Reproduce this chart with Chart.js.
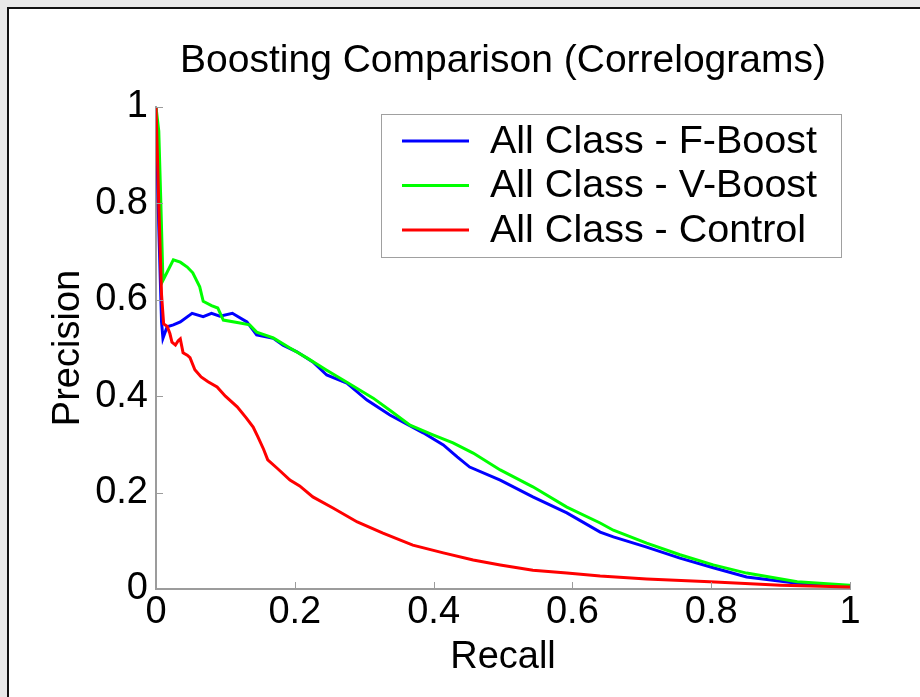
<!DOCTYPE html>
<html>
<head>
<meta charset="utf-8">
<title>Boosting Comparison (Correlograms)</title>
<script src="https://cdn.jsdelivr.net/npm/chart.js@4.4.0/dist/chart.umd.min.js"></script>
<style>
  html, body { margin: 0; padding: 0; background: #e8e8e8; overflow: hidden; }
  #frame {
    position: absolute; left: 7px; top: 7px; width: 1000px; height: 800px;
    background: #fff; border-top: 2px solid #111; border-left: 2px solid #111;
  }
  #wrap { position: absolute; left: 0; top: 0; width: 920px; height: 697px; }
</style>
</head>
<body>
<div id="frame"></div>
<div id="wrap"><canvas id="prChart" width="920" height="697"></canvas></div>
<script>
// precision / recall curves
const fboostRecall = [0, 0.004, 0.008, 0.010, 0.016, 0.025, 0.035, 0.052, 0.068, 0.080, 0.092, 0.110, 0.131, 0.145, 0.169, 0.183, 0.203, 0.226, 0.246, 0.275, 0.304, 0.337, 0.385, 0.414, 0.434, 0.452, 0.496, 0.543, 0.592, 0.640, 0.659, 0.707, 0.755, 0.803, 0.851, 0.924, 1.0];
const fboostPrecision = [1.0, 0.75, 0.554, 0.52, 0.544, 0.548, 0.554, 0.572, 0.565, 0.572, 0.566, 0.572, 0.554, 0.527, 0.52, 0.506, 0.492, 0.471, 0.444, 0.427, 0.392, 0.361, 0.324, 0.299, 0.274, 0.253, 0.226, 0.191, 0.158, 0.118, 0.108, 0.087, 0.064, 0.044, 0.025, 0.012, 0.006];

const vboostRecall = [0, 0.004, 0.007, 0.010, 0.025, 0.035, 0.045, 0.053, 0.063, 0.068, 0.080, 0.089, 0.097, 0.121, 0.135, 0.145, 0.169, 0.193, 0.218, 0.246, 0.275, 0.313, 0.337, 0.366, 0.399, 0.428, 0.457, 0.496, 0.543, 0.592, 0.640, 0.659, 0.707, 0.755, 0.803, 0.851, 0.924, 1.0];
const vboostPrecision = [1.0, 0.95, 0.8, 0.64, 0.683, 0.678, 0.668, 0.656, 0.627, 0.597, 0.588, 0.583, 0.558, 0.552, 0.548, 0.533, 0.521, 0.5, 0.479, 0.454, 0.429, 0.396, 0.371, 0.34, 0.32, 0.303, 0.282, 0.247, 0.212, 0.17, 0.137, 0.122, 0.095, 0.071, 0.05, 0.033, 0.015, 0.008];

const controlRecall = [0, 0.004, 0.008, 0.011, 0.016, 0.020, 0.023, 0.028, 0.032, 0.035, 0.039, 0.045, 0.049, 0.056, 0.065, 0.075, 0.088, 0.100, 0.117, 0.130, 0.140, 0.147, 0.155, 0.161, 0.175, 0.193, 0.207, 0.226, 0.255, 0.290, 0.327, 0.370, 0.414, 0.457, 0.496, 0.543, 0.592, 0.640, 0.707, 0.798, 0.900, 1.0];
const controlPrecision = [1.0, 0.8, 0.61, 0.55, 0.545, 0.53, 0.512, 0.506, 0.515, 0.519, 0.49, 0.485, 0.48, 0.455, 0.44, 0.43, 0.419, 0.4, 0.378, 0.355, 0.336, 0.315, 0.29, 0.268, 0.25, 0.226, 0.214, 0.191, 0.168, 0.139, 0.116, 0.091, 0.075, 0.06, 0.05, 0.039, 0.033, 0.027, 0.021, 0.015, 0.008, 0.004];

const seriesNames = ['All Class - F-Boost', 'All Class - V-Boost', 'All Class - Control'];
const seriesColors = ['#0000ff', '#00ff00', '#ff0000'];

const FONT = "'Liberation Sans', Arial, Helvetica, sans-serif";
const AXIS_GRAY = '#9c9c9c';

function toPoints(xs, ys) {
  return xs.map((x, i) => ({ x: x, y: ys[i] }));
}

// "0", "0.2" ... "1" instead of "1.0"
function shortNumber(value) {
  return String(Number(value.toFixed(2)));
}

// inward tick marks, the way the old plotting tool draws them
const innerTicks = {
  id: 'innerTicks',
  afterDatasetsDraw(chart) {
    const ctx = chart.ctx;
    const xs = chart.scales.x, ys = chart.scales.y;
    const area = chart.chartArea;
    ctx.save();
    ctx.strokeStyle = AXIS_GRAY;
    ctx.lineWidth = 1;
    ctx.beginPath();
    xs.ticks.forEach((t, i) => {
      const px = Math.round(xs.getPixelForTick(i)) + 0.5;
      ctx.moveTo(px, area.bottom);
      ctx.lineTo(px, area.bottom - 7);
    });
    ys.ticks.forEach((t, i) => {
      const py = Math.round(ys.getPixelForTick(i)) + 0.5;
      ctx.moveTo(area.left, py);
      ctx.lineTo(area.left + 7, py);
    });
    ctx.stroke();
    ctx.restore();
  }
};

// boxed legend in the upper right of the plot
const boxLegend = {
  id: 'boxLegend',
  afterDatasetsDraw(chart) {
    const ctx = chart.ctx;
    const box = { left: 381, top: 114, width: 460, height: 143 };
    ctx.save();
    ctx.fillStyle = '#fff';
    ctx.fillRect(box.left, box.top, box.width, box.height);
    ctx.strokeStyle = '#a0a0a0';
    ctx.lineWidth = 1;
    ctx.strokeRect(box.left + 0.5, box.top + 0.5, box.width, box.height);
    ctx.font = '39.5px ' + FONT;
    ctx.textBaseline = 'middle';
    ctx.fillStyle = '#000';
    chart.data.datasets.forEach((ds, i) => {
      const y = box.top + 27 + i * 44.5;
      ctx.strokeStyle = ds.borderColor;
      ctx.lineWidth = 3;
      ctx.beginPath();
      ctx.moveTo(box.left + 21, y);
      ctx.lineTo(box.left + 88, y);
      ctx.stroke();
      ctx.fillText(ds.label, box.left + 109, y + 1);
    });
    ctx.restore();
  }
};

const ctx = document.getElementById('prChart').getContext('2d');
const chart = new Chart(ctx, {
  type: 'line',
  data: {
    datasets: [
      { label: seriesNames[0], data: toPoints(fboostRecall, fboostPrecision), borderColor: seriesColors[0], order: 3 },
      { label: seriesNames[1], data: toPoints(vboostRecall, vboostPrecision), borderColor: seriesColors[1], order: 2 },
      { label: seriesNames[2], data: toPoints(controlRecall, controlPrecision), borderColor: seriesColors[2], order: 1 }
    ]
  },
  options: {
    responsive: false,
    animation: false,
    devicePixelRatio: 1,
    layout: { padding: { top: 0, left: 0, right: 70, bottom: 0 } },
    elements: {
      line: { borderWidth: 3, tension: 0, fill: false },
      point: { radius: 0, hoverRadius: 0 }
    },
    scales: {
      x: {
        type: 'linear',
        min: 0, max: 1,
        ticks: { stepSize: 0.2, padding: 1, color: '#000', font: { family: FONT, size: 38 }, callback: shortNumber },
        grid: { display: true, drawOnChartArea: false, drawTicks: false },
        border: { display: true, color: AXIS_GRAY, width: 2 },
        title: { display: true, text: 'Recall', color: '#000', font: { family: FONT, size: 38 }, padding: { top: 0, bottom: 17 } },
        afterFit(scale) { scale.height = 108; }
      },
      y: {
        type: 'linear',
        min: 0, max: 1,
        ticks: { stepSize: 0.2, padding: 8, color: '#000', font: { family: FONT, size: 38 }, callback: shortNumber },
        grid: { display: true, drawOnChartArea: false, drawTicks: false },
        border: { display: true, color: AXIS_GRAY, width: 2 },
        title: { display: true, text: 'Precision', color: '#000', font: { family: FONT, size: 38 }, padding: { top: 46, bottom: 0 } },
        afterFit(scale) { scale.width = 156; }
      }
    },
    plugins: {
      legend: { display: false },
      tooltip: { enabled: false },
      title: {
        display: true,
        fullSize: false,
        text: 'Boosting Comparison (Correlograms)',
        color: '#000',
        font: { family: FONT, size: 39, weight: 'normal' },
        padding: { top: 38, bottom: 22.2 }
      }
    }
  },
  plugins: [innerTicks, boxLegend]
});
</script>
</body>
</html>
